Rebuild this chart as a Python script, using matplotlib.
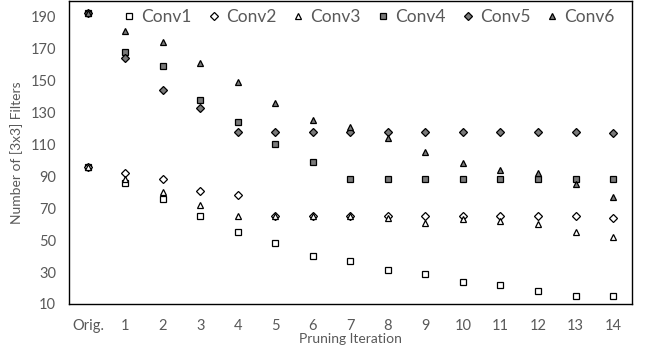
import numpy as np
import matplotlib.pyplot as plt

plt.rcParams['font.family'] = ['Lato', 'DejaVu Sans']

iterations = ['Orig.', '1', '2', '3', '4', '5', '6', '7', '8', '9', '10', '11', '12', '13', '14']

conv1 = [96, 86, 76, 65, 55, 48, 40, 37, 31, 29, 24, 22, 18, 15, 15]
conv2 = [96, 92, 88, 81, 78, 65, 65, 65, 65, 65, 65, 65, 65, 65, 64]
conv3 = [96, 88, 80, 72, 65, 65, 65, 65, 64, 61, 63, 62, 60, 55, 52]
conv4 = [192, 168, 159, 138, 124, 110, 99, 88, 88, 88, 88, 88, 88, 88, 88]
conv5 = [192, 164, 144, 133, 118, 118, 118, 118, 118, 118, 118, 118, 118, 118, 117]
conv6 = [192, 181, 174, 161, 149, 136, 125, 121, 114, 105, 98, 94, 92, 85, 77]

series = [
    ('Conv1', conv1, 's', 'white'),
    ('Conv2', conv2, 'D', 'white'),
    ('Conv3', conv3, '^', 'white'),
    ('Conv4', conv4, 's', '#7a7a7a'),
    ('Conv5', conv5, 'D', '#7a7a7a'),
    ('Conv6', conv6, '^', '#7a7a7a'),
]

gray = '#595959'

fig = plt.figure(figsize=(6.46, 3.51), dpi=100)
ax = fig.add_axes([0.107, 0.134, 0.871, 0.862])

x = np.arange(len(iterations))
for name, vals, mk, fc in series:
    ms = 4.0 if mk == 'D' else 5
    ax.plot(x, vals, linestyle='none', marker=mk, markersize=ms,
            markerfacecolor=fc, markeredgecolor='black', markeredgewidth=0.9,
            label=name)

ax.set_xlim(-0.5, len(iterations) - 0.5)
ax.set_ylim(10, 199.5)
ax.set_xticks(x)
ax.set_xticklabels(iterations)
ax.set_yticks(np.arange(10, 191, 20))

for s in ax.spines.values():
    s.set_color('black')
    s.set_linewidth(1.0)

ax.tick_params(axis='both', length=0, colors=gray, labelsize=10.5)
ax.tick_params(axis='x', pad=11)
ax.tick_params(axis='y', pad=9.5)
ax.set_xlabel('Pruning Iteration', color=gray, fontsize=10, labelpad=0)
ax.set_ylabel('Number of [3x3] Filters', color=gray, fontsize=10, labelpad=5)

leg = ax.legend(ncol=6, loc='upper center', bbox_to_anchor=(0.529, 1.025),
                frameon=False, fontsize=12.5, handletextpad=0.1,
                columnspacing=0.67, handlelength=1.2)
for t in leg.get_texts():
    t.set_color(gray)

fig.savefig('out.png', dpi=100)
